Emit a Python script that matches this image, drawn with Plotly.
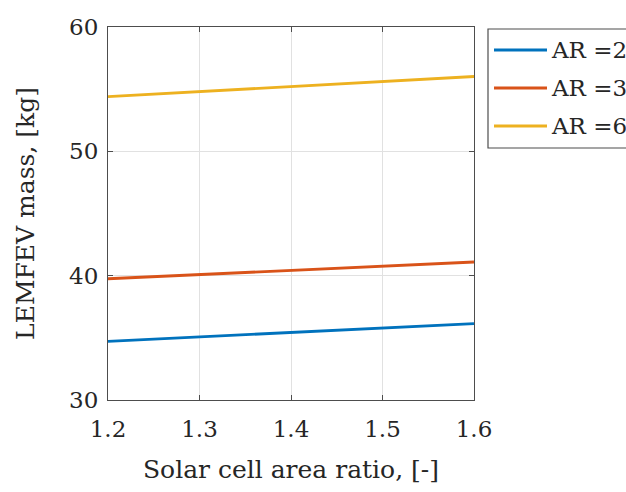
import plotly.graph_objects as go

# Solar cell area ratio sweep and resulting vehicle mass for three aspect ratios
area_ratio = [1.2, 1.3, 1.4, 1.5, 1.6]
mass_ar2 = [34.72, 35.08, 35.43, 35.79, 36.14]
mass_ar3 = [39.75, 40.09, 40.43, 40.77, 41.10]
mass_ar6 = [54.40, 54.80, 55.20, 55.62, 56.02]

series_names = ["AR =2", "AR =3", "AR =6"]
series_values = [mass_ar2, mass_ar3, mass_ar6]
series_colors = ["#0072BD", "#D95319", "#EDB120"]

x_ticks = [1.2, 1.3, 1.4, 1.5, 1.6]
y_ticks = [30, 40, 50, 60]

FONT = "DejaVu Serif"
INK = "#262626"

fig = go.Figure()
for name, vals, col in zip(series_names, series_values, series_colors):
    fig.add_trace(go.Scatter(x=area_ratio, y=vals, mode="lines", name=name,
                             line=dict(color=col, width=2.8), showlegend=False))

axis_common = dict(
    showline=True, linecolor="#4d4d4d", linewidth=1.2, mirror="ticks",
    ticks="inside", ticklen=5, tickcolor="#4d4d4d",
    showgrid=True, gridcolor="#e1e1e1", gridwidth=1,
    zeroline=False,
    tickfont=dict(family=FONT, size=23, color=INK),
)

fig.update_xaxes(range=[1.2, 1.6], tickvals=x_ticks,
                 ticktext=[f"{v:.1f}" for v in x_ticks],
                 ticklabelstandoff=8,
                 title=dict(text="Solar cell area ratio, [-]",
                            font=dict(family=FONT, size=25, color=INK),
                            standoff=19),
                 **axis_common)
fig.update_yaxes(range=[30, 60], tickvals=y_ticks,
                 ticklabelstandoff=4,
                 title=dict(text="LEMFEV mass, [kg]",
                            font=dict(family=FONT, size=25, color=INK),
                            standoff=27),
                 **axis_common)

# Legend box drawn beside the axes
px_w, px_l = 366.0, 108.0
px_h, px_t = 373.0, 27.0
def fx(px):
    return (px - px_l) / px_w
def fy(py):
    return (px_t + px_h - py) / px_h

shapes = [dict(type="rect", xref="paper", yref="paper",
               x0=fx(488), x1=fx(660), y0=fy(148), y1=fy(29),
               line=dict(color="#4d4d4d", width=1.2), fillcolor="white", layer="above")]
annotations = []
row_py = [50, 88, 126]
for name, col, py in zip(series_names, series_colors, row_py):
    shapes.append(dict(type="line", xref="paper", yref="paper",
                       x0=fx(494), x1=fx(547), y0=fy(py), y1=fy(py),
                       line=dict(color=col, width=2.8), layer="above"))
    annotations.append(dict(xref="paper", yref="paper", x=fx(549), y=fy(py),
                            text=name, showarrow=False, xanchor="left", yanchor="middle",
                            font=dict(family=FONT, size=23, color=INK)))

fig.update_layout(
    width=626, height=492,
    margin=dict(l=108, r=152, t=27, b=92),
    paper_bgcolor="white", plot_bgcolor="white",
    showlegend=False,
    shapes=shapes, annotations=annotations,
)

fig.write_html("out.html")
